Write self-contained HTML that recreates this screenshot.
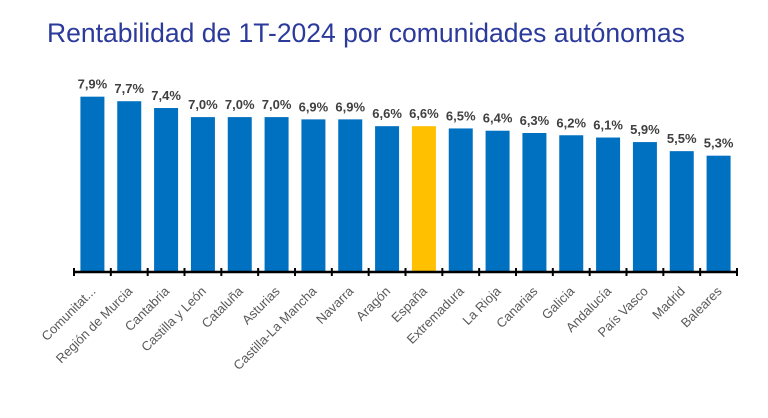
<!DOCTYPE html>
<html><head><meta charset="utf-8"><style>
body{margin:0;background:#fff;width:768px;height:413px;overflow:hidden;font-family:"Liberation Sans",sans-serif}
</style></head><body>
<svg width="768" height="413">
<text x="47" y="42" font-size="26.5" fill="#2b3a9b" font-family="Liberation Sans, sans-serif">Rentabilidad de 1T-2024 por comunidades autónomas</text>
<g id="g"></g>
</svg>
<script>
const categories=["Comunitat...","Región de Murcia","Cantabria","Castilla y León","Cataluña","Asturias","Castilla-La Mancha","Navarra","Aragón","España","Extremadura","La Rioja","Canarias","Galicia","Andalucía","País Vasco","Madrid","Baleares"];
const values=[7.9,7.7,7.4,7.0,7.0,7.0,6.9,6.9,6.6,6.6,6.5,6.4,6.3,6.2,6.1,5.9,5.5,5.3];
const labels=["7,9%","7,7%","7,4%","7,0%","7,0%","7,0%","6,9%","6,9%","6,6%","6,6%","6,5%","6,4%","6,3%","6,2%","6,1%","5,9%","5,5%","5,3%"];
const highlight="España";
const NS="http://www.w3.org/2000/svg";
const g=document.getElementById('g');
const x0=74,x1=737,base=272,step=(x1-x0)/categories.length,bw=24;
function y(v){return base-(v*22.7-4);}
function xc(i){return x0+step*(i+0.5);}
function mk(t,a){const e=document.createElementNS(NS,t);for(const k in a)e.setAttribute(k,a[k]);g.appendChild(e);return e;}
categories.forEach((c,i)=>{
  const r=mk('rect',{x:xc(i)-bw/2,y:y(values[i]),width:bw,height:base-y(values[i]),fill:c===highlight?'#ffc000':'#0070c0'});
  
  
  const t=mk('text',{x:xc(i),y:y(values[i])-8,'text-anchor':'middle','font-size':13,'font-weight':'bold',fill:'#404040'});
  t.textContent=labels[i];
  
  
  const l=mk('text',{x:xc(i)+4,y:base+20,'text-anchor':'end','font-size':13,fill:'#595959',transform:`rotate(-45 ${xc(i)+4} ${base+20})`});
  l.textContent=c;
  
  
});
const ax=mk('line',{x1:x0,x2:x1,y1:base,y2:base,stroke:'#000','stroke-width':2.5});


for(let i=0;i<=categories.length;i++){
  const tk=mk('line',{x1:x0+step*i,x2:x0+step*i,y1:base-4,y2:base+4,stroke:'#000','stroke-width':2});
  
  
}
</script>
</body></html>
